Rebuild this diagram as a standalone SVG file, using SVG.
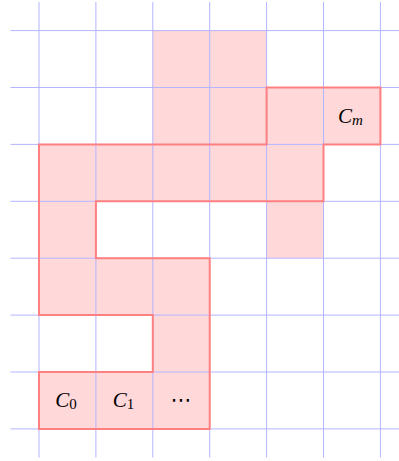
<svg xmlns="http://www.w3.org/2000/svg" width="399" height="461" viewBox="0 0 399 461">
  <style>
    .cell { fill: #FFD8DA; stroke: none; }
    .grid line { stroke: #B4B4FF; stroke-width: 1; }
    .outline { fill: none; stroke: #FF8080; stroke-width: 2; stroke-linejoin: miter; }
    .lbl { font-family: "Liberation Serif", "DejaVu Serif", serif; font-size: 21px; font-style: italic; fill: #000; text-anchor: middle; }
    .sub { font-size: 15px; }
    .up { font-style: normal; }
  </style>
  <rect width="399" height="461" fill="#fff"/>
  <g id="cells">
    <rect class="cell" x="152.8" y="30.6" width="113.8" height="113.8"/>
    <rect class="cell" x="266.6" y="87.5" width="113.8" height="56.9"/>
    <rect class="cell" x="39" y="144.4" width="284.5" height="56.9"/>
    <rect class="cell" x="39" y="201.3" width="56.9" height="56.9"/>
    <rect class="cell" x="266.6" y="201.3" width="56.9" height="56.9"/>
    <rect class="cell" x="39" y="258.2" width="170.7" height="56.9"/>
    <rect class="cell" x="152.8" y="315.1" width="56.9" height="56.9"/>
    <rect class="cell" x="39" y="372" width="170.7" height="56.9"/>
  </g>
  <g class="grid" id="grid">
    <line x1="39" y1="2" x2="39" y2="457.5"/>
    <line x1="95.9" y1="2" x2="95.9" y2="457.5"/>
    <line x1="152.8" y1="2" x2="152.8" y2="457.5"/>
    <line x1="209.7" y1="2" x2="209.7" y2="457.5"/>
    <line x1="266.6" y1="2" x2="266.6" y2="457.5"/>
    <line x1="323.5" y1="2" x2="323.5" y2="457.5"/>
    <line x1="380.4" y1="2" x2="380.4" y2="457.5"/>
    <line x1="10.5" y1="30.6" x2="399" y2="30.6"/>
    <line x1="10.5" y1="87.5" x2="399" y2="87.5"/>
    <line x1="10.5" y1="144.4" x2="399" y2="144.4"/>
    <line x1="10.5" y1="201.3" x2="399" y2="201.3"/>
    <line x1="10.5" y1="258.2" x2="399" y2="258.2"/>
    <line x1="10.5" y1="315.1" x2="399" y2="315.1"/>
    <line x1="10.5" y1="372" x2="399" y2="372"/>
    <line x1="10.5" y1="428.9" x2="399" y2="428.9"/>
  </g>
  <g id="path-outline">
    <polygon class="outline" points="39,428.9 209.7,428.9 209.7,258.2 95.9,258.2 95.9,201.3 323.5,201.3 323.5,144.4 380.4,144.4 380.4,87.5 266.6,87.5 266.6,144.4 39,144.4 39,315.1 152.8,315.1 152.8,372 39,372"/>
  </g>
  <g id="c0"><text class="lbl" x="66" y="407">C<tspan class="sub up" dy="2">0</tspan></text></g>
  <g id="c1"><text class="lbl" x="123.5" y="407">C<tspan class="sub up" dy="2">1</tspan></text></g>
  <g id="cdots"><text class="lbl up" x="181.2" y="407" style="font-family:'DejaVu Sans','Liberation Serif',sans-serif;font-size:21px">⋯</text></g>
  <g id="cm"><text class="lbl" x="350.5" y="123">C<tspan class="sub" dy="2">m</tspan></text></g>
</svg>
